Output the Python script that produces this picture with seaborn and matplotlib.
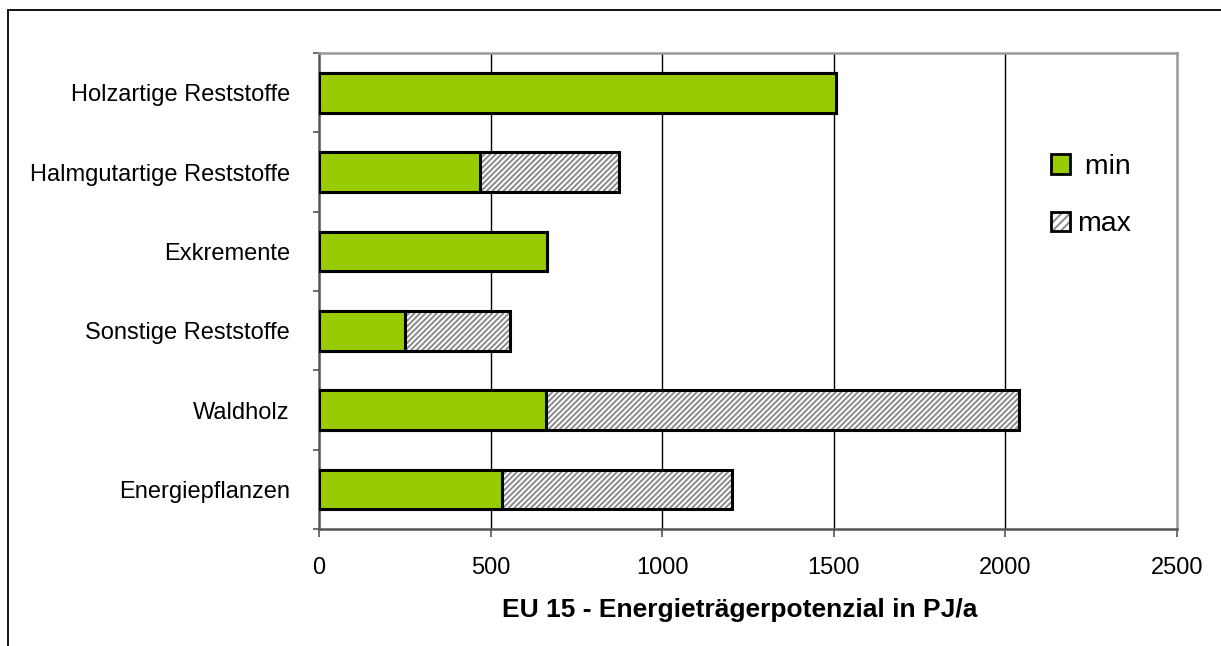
import matplotlib
matplotlib.use("Agg")
import matplotlib.pyplot as plt
from matplotlib.patches import Patch, Rectangle
from matplotlib.legend_handler import HandlerTuple
import numpy as np
import pandas as pd
import seaborn as sns

# Biomass energy carrier potential, EU 15 (PJ/a)
categories = [
    "Holzartige Reststoffe",
    "Halmgutartige Reststoffe",
    "Exkremente",
    "Sonstige Reststoffe",
    "Waldholz",
    "Energiepflanzen",
]
min_values = [1505, 470, 663, 250, 662, 532]
max_values = [1505, 874, 663, 557, 2040, 1203]
x_ticks = [0, 500, 1000, 1500, 2000, 2500]
x_label = "EU 15 - Energieträgerpotenzial in PJ/a"
legend_labels = [" min", "max"]

sns.set_theme(style="white")
plt.rcParams["font.family"] = ["Liberation Sans", "DejaVu Sans"]
plt.rcParams["text.color"] = "black"
plt.rcParams["xtick.color"] = "black"
plt.rcParams["ytick.color"] = "black"
plt.rcParams["axes.labelcolor"] = "black"
plt.rcParams["hatch.linewidth"] = 1.4

df = pd.DataFrame({"Kategorie": categories, "min": min_values, "max": max_values})

fig = plt.figure(figsize=(12.21, 6.46), dpi=100)
ax = fig.add_axes([319 / 1221, 1 - 529 / 646, (1177 - 319) / 1221, (529 - 53) / 646])

green = "#99cc00"
hatch_grey = "#8a8a8a"
hatch = "//////"
bar_h = 0.5

# hatched range up to the maximum, drawn first
sns.barplot(data=df, x="max", y="Kategorie", orient="h", color="white",
            width=bar_h, ax=ax, saturation=1, edgecolor=hatch_grey,
            linewidth=0, hatch=hatch, zorder=2)
# black outline around the full bar
sns.barplot(data=df, x="max", y="Kategorie", orient="h", color="white",
            width=bar_h, ax=ax, saturation=1, fill=False, edgecolor="black",
            linewidth=2.2, zorder=3)
# minimum part in green
sns.barplot(data=df, x="min", y="Kategorie", orient="h", color=green,
            width=bar_h, ax=ax, saturation=1, edgecolor="black",
            linewidth=2.2, zorder=4)

ax.set_xlim(0, 2500)
ax.set_ylim(len(categories) - 0.5, -0.5)
ax.set_xticks(x_ticks)
ax.set_xticklabels([str(t) for t in x_ticks], fontsize=17)
ax.set_yticks(range(len(categories)))
ax.set_yticklabels(categories, fontsize=17)
ax.set_yticks(np.arange(-0.5, len(categories), 1.0), minor=True)
ax.tick_params(axis="y", which="major", length=0, pad=21)
ax.tick_params(axis="y", which="minor", length=4, width=1.2, color="#555555",
               direction="out", left=True)
ax.tick_params(axis="x", which="major", length=6, width=1.2, color="#555555",
               direction="out", bottom=True, pad=14)

ax.set_xlabel(x_label, fontsize=19, fontweight="bold", labelpad=14)
ax.xaxis.label.set_x((740 - 319) / 858)
ax.set_ylabel("")

ax.grid(False)
for t in x_ticks[1:-1]:
    ax.axvline(t, color="black", lw=1.0, zorder=1)

for side in ["left", "bottom"]:
    ax.spines[side].set_color("#555555")
    ax.spines[side].set_linewidth(1.8)
for side in ["top", "right"]:
    ax.spines[side].set_color("#999999")
    ax.spines[side].set_linewidth(1.8)
    ax.spines[side].set_visible(True)

min_key = Patch(facecolor=green, edgecolor="black", linewidth=2)
max_key = (Patch(facecolor="white", edgecolor=hatch_grey, hatch="////", linewidth=0),
           Patch(fill=False, edgecolor="black", linewidth=2))
ax.legend([min_key, max_key], legend_labels, loc="center",
          bbox_to_anchor=(0.8995, 0.70), frameon=False, fontsize=20.5,
          handlelength=0.68, handleheight=0.68, handletextpad=0.25,
          labelspacing=1.1, handler_map={tuple: HandlerTuple(ndivide=1)})

# outer frame of the figure
fig.patches.append(Rectangle((8 / 1221, -0.5), 2.0, 0.5 + 1 - 10 / 646,
                             transform=fig.transFigure, fill=False,
                             edgecolor="black", linewidth=1.3))

fig.savefig("out.png", dpi=100)
